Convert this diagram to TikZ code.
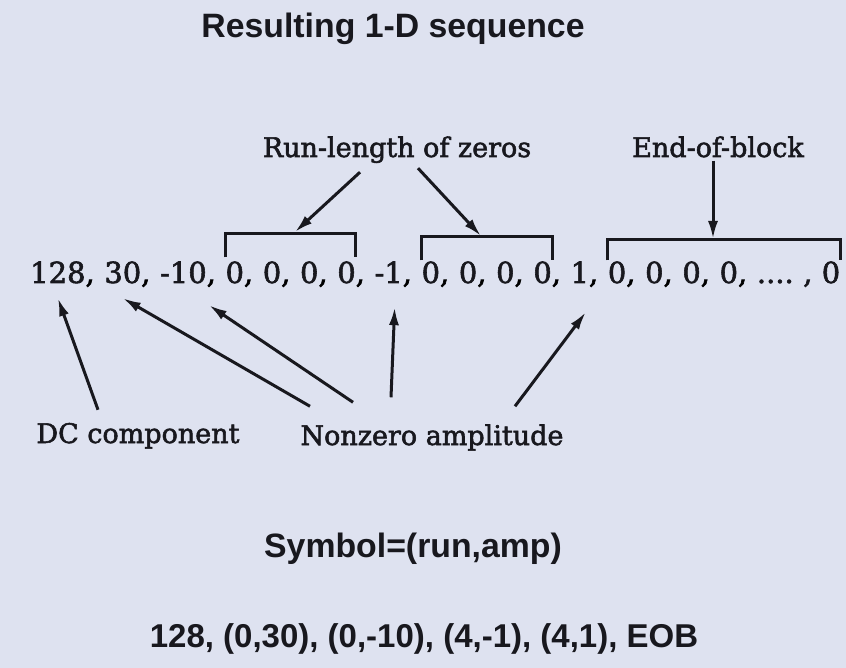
\documentclass[tikz,border=0pt]{standalone}
\usepackage{fontspec}
\setmainfont{DejaVu Serif}
\newfontfamily\inkserif{DejaVu Serif}[FakeBold=2]
\newfontfamily\headfont{Liberation Sans Bold}
\usepackage{tikz}
\usetikzlibrary{arrows.meta,positioning}
\definecolor{ScanPaper}{HTML}{DEE2F0}
\definecolor{ScanInk}{HTML}{18181E}

\tikzset{
  seqnum/.style={inner sep=0pt,text=ScanInk,font=\inkserif\fontsize{29}{34}\selectfont},
  seqcomma/.style={seqnum,execute at end node={\rlap{,}}},
  notelabel/.style={inner sep=0pt,anchor=base,text=ScanInk,font=\inkserif\fontsize{27}{32}\selectfont},
  headline/.style={inner sep=0pt,anchor=base,text=ScanInk,font=\headfont\fontsize{33.8}{40}\selectfont},
  pointer/.style={ScanInk,line width=3pt,-{Latex[length=18pt,width=10pt]}},
  bracketline/.style={ScanInk,line width=3pt},
}

\begin{document}
\begin{tikzpicture}[x=1pt,y=-1pt]
  \useasboundingbox (0,0) rectangle (846,668);
  \fill[ScanPaper] (0,0) rectangle (846,668);

  \node[headline] (title) at (393,38) {Resulting 1-D sequence};

  % the zig-zag sequence
  \node[seqcomma,anchor=base west] (s1) at (30,283) {128};
  \node[seqcomma,base right=18.4pt of s1] (s2) {30};
  \node[seqcomma,base right=18.4pt of s2] (s3) {-10};
  \node[seqcomma,base right=18.4pt of s3] (s4) {0};
  \node[seqcomma,base right=18.4pt of s4] (s5) {0};
  \node[seqcomma,base right=18.4pt of s5] (s6) {0};
  \node[seqcomma,base right=18.4pt of s6] (s7) {0};
  \node[seqcomma,base right=18.4pt of s7] (s8) {-1};
  \node[seqcomma,base right=18.4pt of s8] (s9) {0};
  \node[seqcomma,base right=18.4pt of s9] (s10) {0};
  \node[seqcomma,base right=18.4pt of s10] (s11) {0};
  \node[seqcomma,base right=18.4pt of s11] (s12) {0};
  \node[seqcomma,base right=18.4pt of s12] (s13) {1};
  \node[seqcomma,base right=18.4pt of s13] (s14) {0};
  \node[seqcomma,base right=18.4pt of s14] (s15) {0};
  \node[seqcomma,base right=18.4pt of s15] (s16) {0};
  \node[seqcomma,base right=18.4pt of s16] (s17) {0};
  \node[seqnum,base right=18.4pt of s17] (s18) {....};
  \node[seqnum,base right=9.2pt of s18] (s19) {, 0};

  % runs of zeros
  \draw[bracketline] ([yshift=4pt]s4.north west) -- ([yshift=28pt]s4.north west)
    -- ([yshift=28pt]s7.north east) -- ([yshift=4pt]s7.north east);
  \draw[bracketline] ([yshift=1pt]s9.north west) -- ([yshift=25pt]s9.north west)
    -- ([yshift=25pt]s12.north east) -- ([yshift=1pt]s12.north east);
  \draw[bracketline] ([yshift=1pt]s14.north west) -- ([yshift=22pt]s14.north west)
    -- ([yshift=22pt]s19.north east) -- ([yshift=1pt]s19.north east);
  \coordinate (b1) at (295,232);
  \coordinate (b2) at (481,236);
  \coordinate (b3) at (713,239);

  \node[notelabel] (runlen) at (397,157) {Run-length of zeros};
  \node[notelabel] (eob) at (718,157) {End-of-block};
  \node[notelabel] (dc) at (138,443) {DC component};
  \node[notelabel] (nonzero) at (432,445) {Nonzero amplitude};

  \draw[pointer] ([xshift=-37pt,yshift=-9pt]runlen.south) -- (b1);
  \draw[pointer] ([xshift=21pt,yshift=-5pt]runlen.south) -- (b2);
  \draw[pointer] ([xshift=-5pt,yshift=-3pt]eob.south) -- (b3);

  \draw[pointer] ([xshift=-40pt,yshift=13pt]dc.north) -- ([yshift=-11pt]s1.south);
  \draw[pointer] ([xshift=-122pt,yshift=18pt]nonzero.north) -- ([yshift=-11pt]s2.south);
  \draw[pointer] ([xshift=-79pt,yshift=22pt]nonzero.north) -- ([xshift=2pt,yshift=-18pt]s3.south east);
  \draw[pointer] ([xshift=-41pt,yshift=27pt]nonzero.north) -- ([xshift=6pt,yshift=-20pt]s8.south);
  \draw[pointer] ([xshift=83pt,yshift=18pt]nonzero.north) -- ([xshift=6pt,yshift=-25pt]s13.south);

  \node[headline] (symbol) at (413,557) {Symbol=(run,amp)};
  \node[headline,font=\headfont\fontsize{33}{40}\selectfont] (coded) at (424,647)
    {128, (0,30), (0,-10), (4,-1), (4,1), EOB};
\end{tikzpicture}
\end{document}
